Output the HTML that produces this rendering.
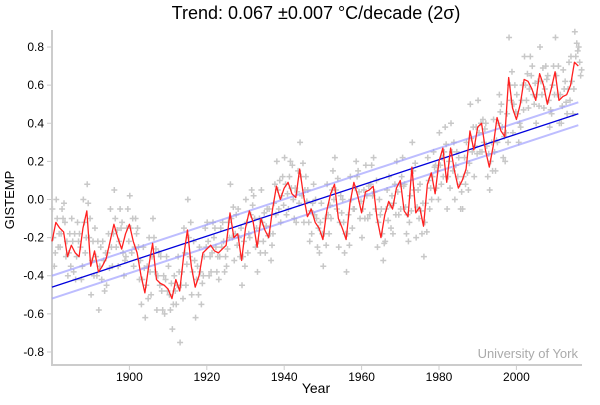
<!DOCTYPE html>
<html><head><meta charset="utf-8"><style>
body{margin:0;background:#fff;font-family:"Liberation Sans",sans-serif}
</style></head><body>
<svg id="chart" width="600" height="400" xmlns="http://www.w3.org/2000/svg" font-family="Liberation Sans, sans-serif">
<text x="316" y="19" text-anchor="middle" font-size="18" fill="#000">Trend: 0.067 ±0.007 °C/decade (2σ)</text>
<text transform="translate(14,200) rotate(-90)" text-anchor="middle" font-size="13">GISTEMP</text>
<text x="316" y="393" text-anchor="middle" font-size="14">Year</text>
<text x="578" y="358" text-anchor="end" font-size="13" fill="#aaa">University of York</text>
<g id="axes"></g>
<g id="scatter"></g>
<g id="bands"></g>
<g id="running"></g>
</svg>
<script>
const xTicks=[1900,1920,1940,1960,1980,2000];
const yTicks=[-0.8,-0.6,-0.4,-0.2,0.0,0.2,0.4,0.6,0.8];
const trendStart=[1880,-0.46];
const trendEnd=[2016,0.45];
const bandHalfWidth=0.06;
const redYears=[1880,1881,1882,1883,1884,1885,1886,1887,1888,1889,1890,1891,1892,1893,1894,1895,1896,1897,1898,1899,1900,1901,1902,1903,1904,1905,1906,1907,1908,1909,1910,1911,1912,1913,1914,1915,1916,1917,1918,1919,1920,1921,1922,1923,1924,1925,1926,1927,1928,1929,1930,1931,1932,1933,1934,1935,1936,1937,1938,1939,1940,1941,1942,1943,1944,1945,1946,1947,1948,1949,1950,1951,1952,1953,1954,1955,1956,1957,1958,1959,1960,1961,1962,1963,1964,1965,1966,1967,1968,1969,1970,1971,1972,1973,1974,1975,1976,1977,1978,1979,1980,1981,1982,1983,1984,1985,1986,1987,1988,1989,1990,1991,1992,1993,1994,1995,1996,1997,1998,1999,2000,2001,2002,2003,2004,2005,2006,2007,2008,2009,2010,2011,2012,2013,2014,2015,2016];
const redVals=[-0.22,-0.12,-0.15,-0.17,-0.30,-0.24,-0.28,-0.30,-0.15,-0.06,-0.35,-0.27,-0.38,-0.35,-0.31,-0.22,-0.13,-0.20,-0.26,-0.18,-0.13,-0.22,-0.28,-0.40,-0.49,-0.35,-0.23,-0.42,-0.44,-0.45,-0.47,-0.52,-0.42,-0.48,-0.30,-0.16,-0.35,-0.46,-0.40,-0.28,-0.26,-0.24,-0.27,-0.28,-0.26,-0.24,-0.07,-0.20,-0.18,-0.32,-0.15,-0.06,-0.12,-0.25,-0.10,-0.16,-0.20,-0.05,0.07,0.00,0.06,0.09,0.03,0.01,0.16,0.02,-0.09,-0.05,-0.12,-0.15,-0.21,-0.06,0.03,0.08,-0.10,-0.15,-0.21,-0.02,0.09,0.02,-0.07,0.04,0.05,0.07,-0.10,-0.20,-0.08,-0.01,-0.05,0.06,0.10,-0.06,-0.09,0.17,-0.07,-0.04,-0.14,0.08,0.14,0.03,0.20,0.27,0.09,0.27,0.15,0.06,0.10,0.16,0.36,0.26,0.38,0.40,0.26,0.17,0.28,0.43,0.36,0.33,0.64,0.48,0.42,0.50,0.63,0.62,0.58,0.52,0.66,0.60,0.50,0.58,0.67,0.52,0.54,0.55,0.60,0.72,0.70];
const scatterA=[-0.05,0.0,-0.25,-0.02,-0.40,-0.10,-0.42,-0.18,0.0,0.08,-0.50,-0.15,-0.58,-0.22,-0.45,-0.05,0.05,-0.35,-0.12,-0.30,0.02,-0.35,-0.15,-0.55,-0.62,-0.20,-0.10,-0.58,-0.30,-0.60,-0.35,-0.68,-0.55,-0.75,-0.15,0.0,-0.50,-0.62,-0.25,-0.40,-0.12,-0.38,-0.15,-0.42,-0.12,-0.35,0.08,-0.32,-0.05,-0.45,0.0,-0.20,0.02,-0.38,0.05,-0.28,-0.05,-0.18,0.20,-0.12,0.22,-0.05,0.18,-0.12,0.30,-0.12,0.05,-0.18,0.0,-0.28,-0.35,0.08,-0.10,0.22,-0.25,0.0,-0.38,0.12,-0.05,0.15,-0.20,0.18,-0.08,0.22,-0.25,-0.05,-0.22,0.12,-0.18,0.20,-0.05,0.08,-0.22,0.30,-0.20,0.08,-0.30,0.22,0.0,0.18,0.35,0.12,-0.05,0.40,0.0,0.22,-0.05,0.30,0.50,0.12,0.52,0.25,0.40,0.05,0.42,0.30,0.50,0.20,0.85,0.35,0.55,0.38,0.75,0.48,0.70,0.40,0.80,0.48,0.65,0.45,0.85,0.40,0.68,0.45,0.75,0.88,0.80];
const scatterB=[-0.35,-0.25,-0.05,-0.30,-0.18,-0.38,-0.12,-0.42,-0.28,-0.20,-0.22,-0.40,-0.25,-0.48,-0.18,-0.35,-0.25,-0.05,-0.40,-0.05,-0.28,-0.10,-0.42,-0.25,-0.35,-0.50,-0.38,-0.28,-0.58,-0.30,-0.58,-0.40,-0.30,-0.38,-0.45,-0.30,-0.22,-0.35,-0.55,-0.15,-0.40,-0.12,-0.38,-0.15,-0.38,-0.12,-0.20,-0.08,-0.30,-0.22,-0.28,0.05,-0.25,-0.10,-0.22,-0.05,-0.32,0.08,-0.05,0.12,-0.08,0.20,-0.10,0.15,0.02,0.12,-0.22,0.08,-0.25,-0.02,-0.10,-0.18,0.15,-0.05,0.02,-0.28,-0.08,-0.15,0.20,-0.10,0.05,-0.10,0.18,-0.05,0.0,-0.32,0.05,-0.15,0.08,-0.08,0.22,-0.18,0.02,0.05,0.05,-0.18,-0.02,-0.05,0.25,0.15,0.08,0.38,0.20,0.15,0.25,-0.05,0.22,0.05,0.25,0.38,0.25,0.30,0.12,0.30,0.15,0.55,0.22,0.45,0.52,0.60,0.30,0.60,0.52,0.75,0.50,0.62,0.55,0.70,0.38,0.70,0.55,0.40,0.62,0.72,0.45,0.82,0.65];
const scatterC=[-0.20,-0.10,-0.18,-0.12,-0.28,-0.22,-0.30,-0.25,-0.12,-0.02,-0.32,-0.30,-0.35,-0.32,-0.28,-0.25,-0.10,-0.22,-0.28,-0.15,-0.15,-0.25,-0.25,-0.42,-0.45,-0.38,-0.20,-0.40,-0.48,-0.42,-0.50,-0.55,-0.45,-0.45,-0.28,-0.20,-0.38,-0.42,-0.38,-0.30,-0.22,-0.28,-0.25,-0.30,-0.22,-0.26,-0.10,-0.18,-0.20,-0.30,-0.12,-0.08,-0.10,-0.22,-0.12,-0.14,-0.18,-0.02,0.05,0.02,0.08,0.12,0.00,0.04,0.12,0.05,-0.12,-0.02,-0.10,-0.12,-0.18,-0.08,0.05,0.05,-0.12,-0.12,-0.18,0.00,0.06,0.04,-0.05,0.02,0.08,0.04,-0.12,-0.18,-0.05,-0.03,-0.02,0.04,0.12,-0.04,-0.12,0.15,-0.04,-0.06,-0.12,0.10,0.12,0.06,0.18,0.25,0.12,0.25,0.18,0.08,0.12,0.14,0.32,0.28,0.35,0.42,0.28,0.20,0.25,0.40,0.38,0.35,0.60,0.50,0.45,0.52,0.60,0.58,0.55,0.55,0.62,0.58,0.52,0.60,0.65,0.55,0.58,0.58,0.62,0.75,0.72];
const scatterD=[-0.28,-0.18,-0.10,-0.22,-0.35,-0.18,-0.22,-0.35,-0.20,-0.10,-0.40,-0.22,-0.42,-0.28,-0.36,-0.18,-0.16,-0.15,-0.32,-0.22,-0.10,-0.18,-0.32,-0.36,-0.52,-0.30,-0.26,-0.45,-0.40,-0.48,-0.44,-0.48,-0.38,-0.52,-0.34,-0.12,-0.32,-0.50,-0.44,-0.25,-0.30,-0.20,-0.30,-0.25,-0.30,-0.20,-0.04,-0.24,-0.15,-0.35,-0.18,-0.03,-0.15,-0.28,-0.07,-0.19,-0.24,-0.08,0.10,-0.03,0.03,0.06,0.06,-0.02,0.19,-0.01,-0.06,-0.08,-0.15,-0.18,-0.24,-0.03,0.00,0.11,-0.07,-0.18,-0.24,-0.05,0.12,-0.01,-0.10,0.07,0.02,0.10,-0.08,-0.23,-0.11,0.02,-0.08,0.08,0.07,-0.08,-0.06,0.19,-0.10,-0.02,-0.17,0.06,0.17,0.00,0.22,0.29,0.06,0.30,0.12,0.04,0.08,0.19,0.38,0.24,0.40,0.37,0.24,0.15,0.31,0.46,0.33,0.30,0.67,0.46,0.40,0.47,0.66,0.65,0.61,0.49,0.69,0.63,0.47,0.55,0.70,0.49,0.51,0.52,0.58,0.78,0.68];
const X=y=>52+(y-1880)*3.87;
const Y=v=>199.5-v*190.6;
const NS="http://www.w3.org/2000/svg";
function mk(t,a,p){const e=document.createElementNS(NS,t);for(const k in a)e.setAttribute(k,a[k]);p.appendChild(e);return e;}
const ax=document.getElementById('axes');
const yAxis=mk('line',{x1:52,y1:30,x2:52,y2:365,stroke:'#ccc','stroke-width':2},ax);


const xAxis=mk('line',{x1:51,y1:365,x2:582,y2:365,stroke:'#ccc','stroke-width':2},ax);


yTicks.forEach(v=>{
 mk('line',{x1:47,x2:52,y1:Y(v),y2:Y(v),stroke:'#ccc'},ax);
 const t=mk('text',{x:44,y:Y(v)+4,'text-anchor':'end','font-size':12},ax);
 t.textContent=v.toFixed(1);
 
 
});
xTicks.forEach(yr=>{
 mk('line',{x1:X(yr),x2:X(yr),y1:365,y2:370,stroke:'#ccc'},ax);
 const t=mk('text',{x:X(yr),y:381,'text-anchor':'middle','font-size':12},ax);
 t.textContent=yr;
 
 
});
const sc=document.getElementById('scatter');
function cross(yr,v){
 const g=mk('path',{d:`M${X(yr)-3},${Y(v)}h6M${X(yr)},${Y(v)-3}v6`,stroke:'#c8c8c8','stroke-width':1.5},sc);
 
 
}
redYears.forEach((yr,i)=>{
 cross(yr+0.1,scatterA[i]);cross(yr+0.6,scatterB[i]);
 cross(yr+0.35,scatterC[i]);cross(yr+0.85,scatterD[i]);
});
const bd=document.getElementById('bands');
[-bandHalfWidth,bandHalfWidth].forEach(o=>{
 const l=mk('line',{x1:X(trendStart[0]),y1:Y(trendStart[1]+o),x2:X(trendEnd[0]),y2:Y(trendEnd[1]+o),stroke:'#9999ff','stroke-width':2,'stroke-opacity':0.65},bd);
 
 
});
const tl=mk('line',{x1:X(trendStart[0]),y1:Y(trendStart[1]),x2:X(trendEnd[0]),y2:Y(trendEnd[1]),stroke:'#0000dd','stroke-width':1.3},bd);


const rn=document.getElementById('running');
const rl=mk('polyline',{points:redYears.map((yr,i)=>X(yr)+','+Y(redVals[i])).join(' '),fill:'none',stroke:'#ff2020','stroke-width':1.3,'stroke-linejoin':'round'},rn);


</script>
</body></html>
